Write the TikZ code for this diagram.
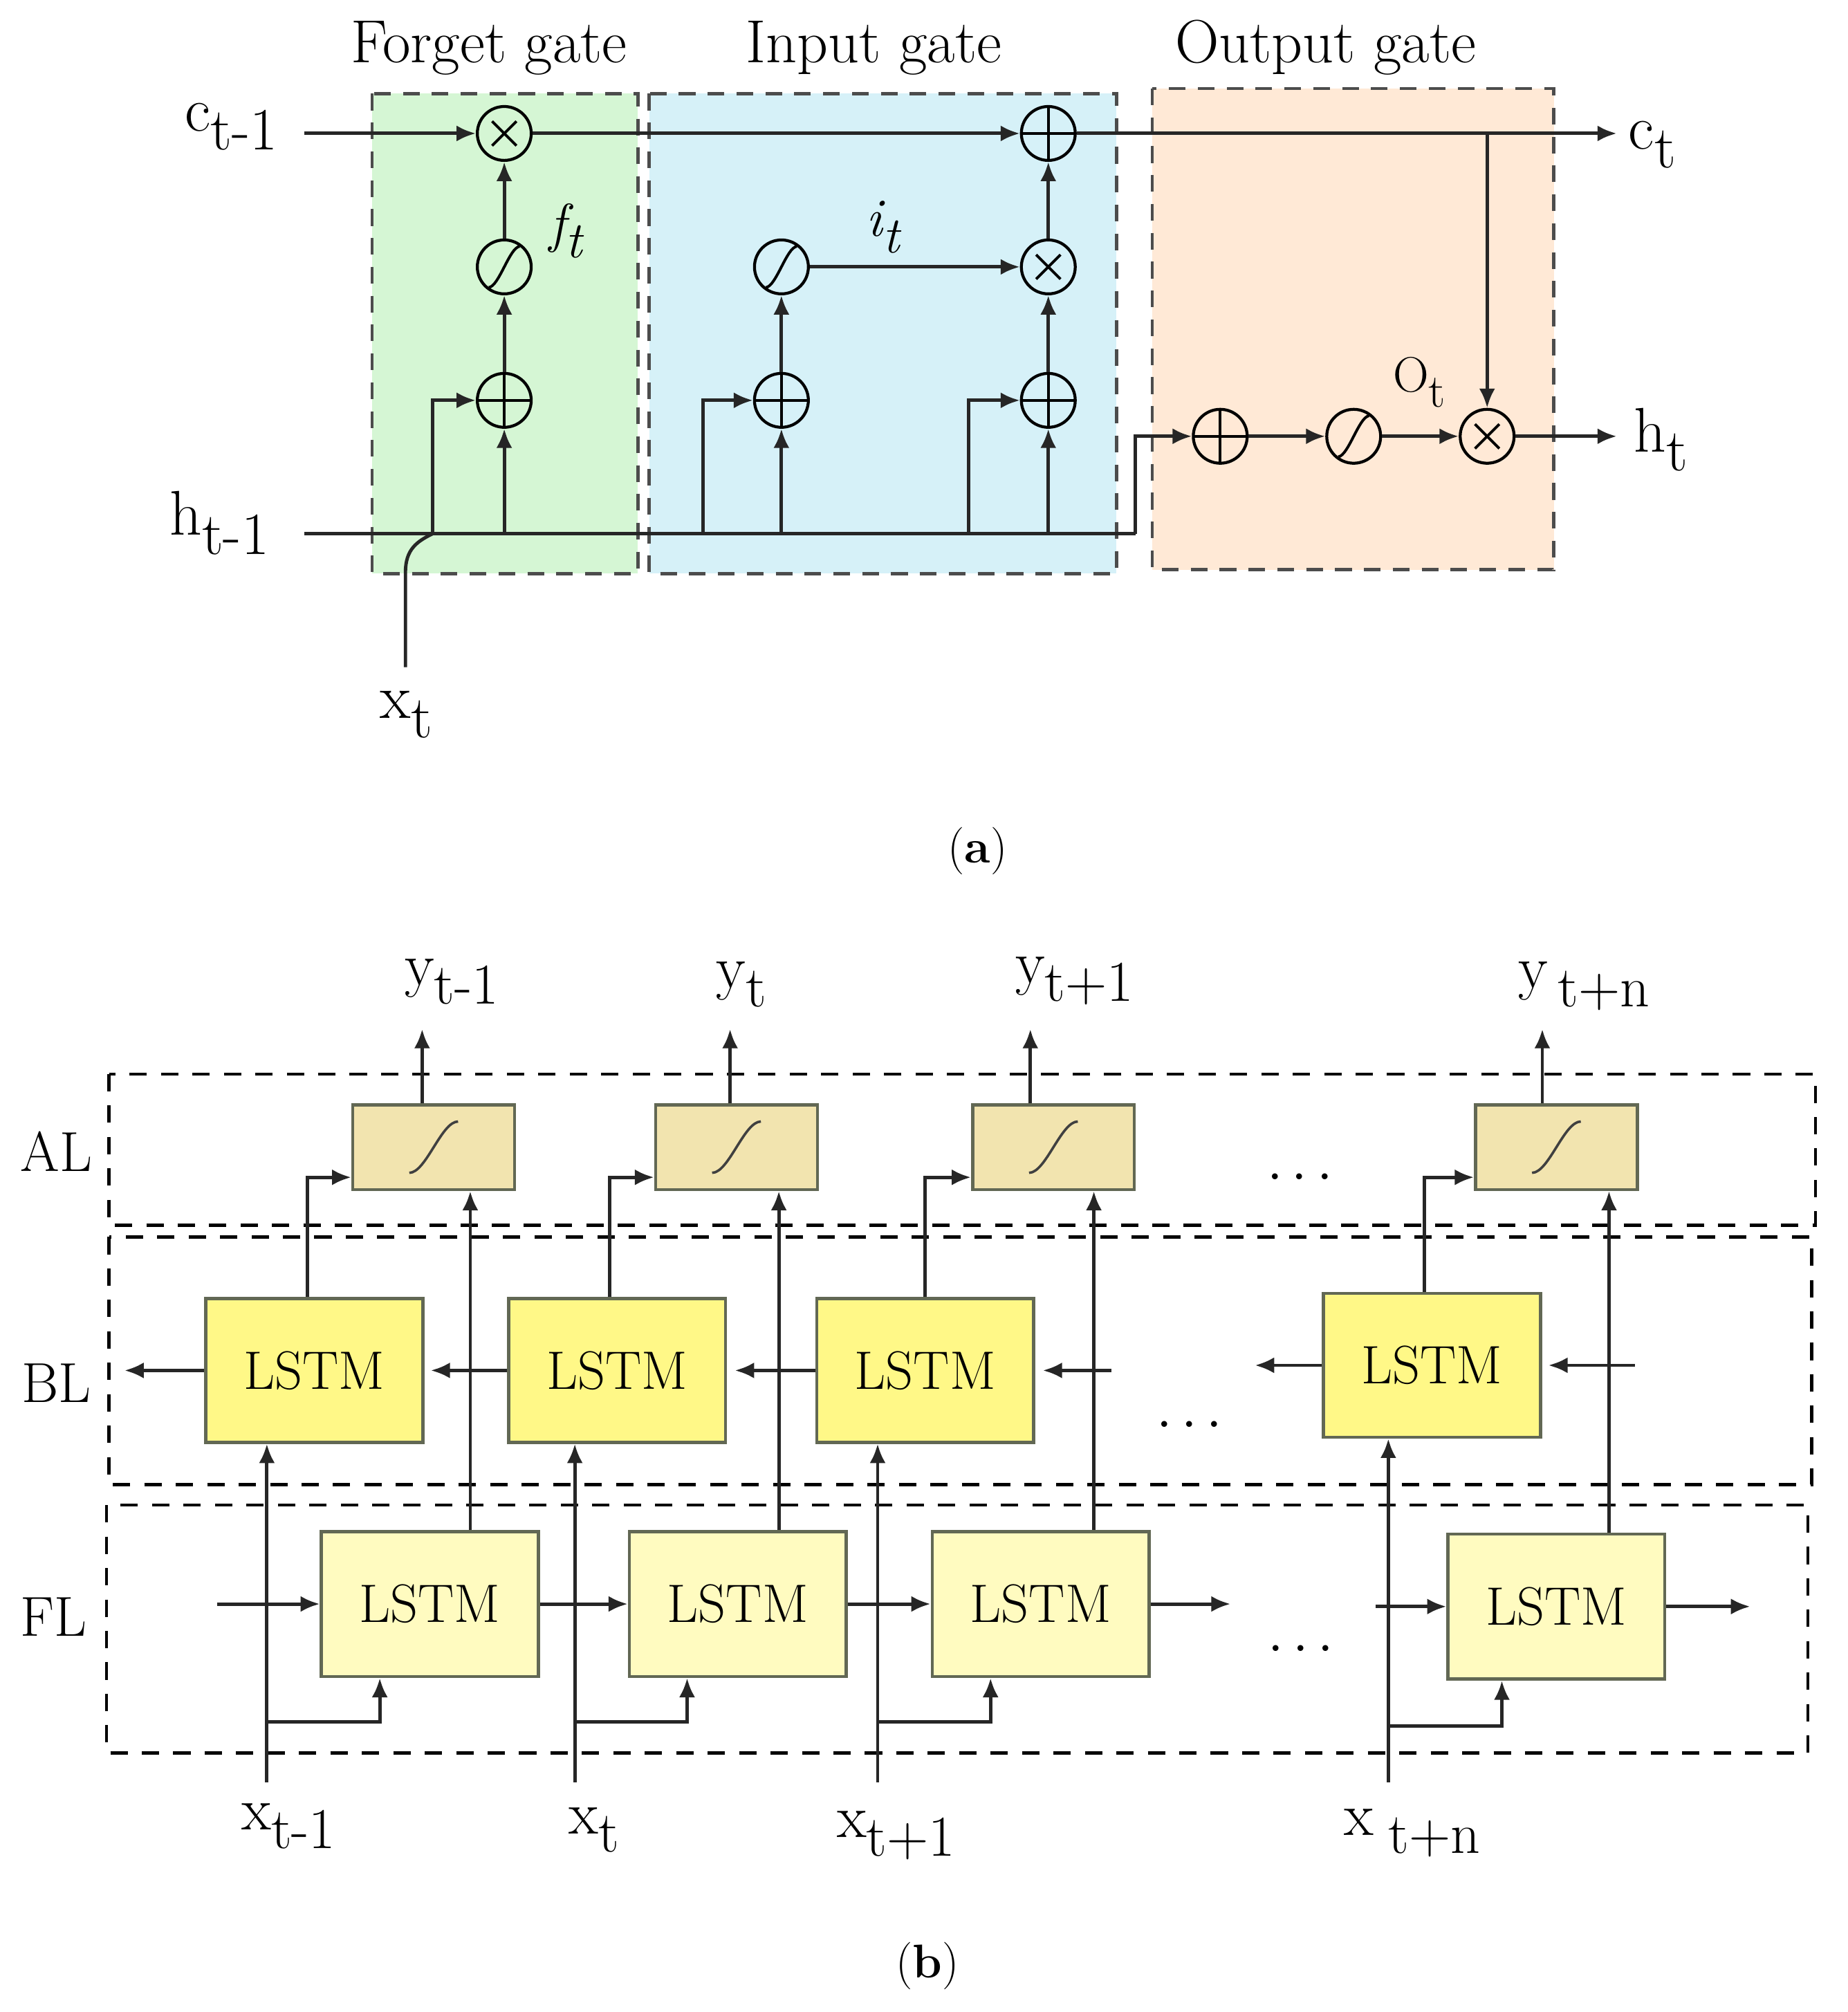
\documentclass[tikz,border=0pt]{standalone}
\usepackage{graphicx}
\usetikzlibrary{arrows.meta,positioning}

\definecolor{fgreen}{RGB}{213,246,212}
\definecolor{iblue}{RGB}{214,241,248}
\definecolor{oorange}{RGB}{255,233,214}
\definecolor{acttan}{RGB}{242,228,175}
\definecolor{bwdyellow}{RGB}{255,248,135}
\definecolor{fwdyellow}{RGB}{255,251,192}
\definecolor{boxline}{RGB}{98,104,84}

\newcommand{\tlabel}[2]{#1\raisebox{-0.7ex}{\scalebox{0.95}{#2}}}

\begin{document}
\begin{tikzpicture}[x=0.2mm,y=-0.2mm,
	wire/.style={line width=1.5pt,black!85},
	arr/.style={wire,-{Latex[length=3mm,width=2.5mm]}},
	op/.style={circle,draw,line width=1.3pt,minimum size=8.4mm,inner sep=0pt},
	add/.style={op,path picture={\draw[line width=1.2pt] (path picture bounding box.west) -- (path picture bounding box.east) (path picture bounding box.north) -- (path picture bounding box.south);}},
	mul/.style={op,path picture={\draw[line width=1.2pt] ([shift={(-1.9mm,-1.9mm)}]path picture bounding box.center) -- ([shift={(1.9mm,1.9mm)}]path picture bounding box.center) ([shift={(-1.9mm,1.9mm)}]path picture bounding box.center) -- ([shift={(1.9mm,-1.9mm)}]path picture bounding box.center);}},
	sgm/.style={op,path picture={\draw[line width=1.2pt] ([shift={(-2.4mm,-3.2mm)}]path picture bounding box.center) .. controls +(1.6mm,0.2mm) and +(-1.6mm,-0.2mm) .. ([shift={(2.4mm,3.2mm)}]path picture bounding box.center);}},
	gatebox/.style={draw=black!70,line width=1.5pt,dash pattern=on 2.6mm off 1.9mm},
	layerbox/.style={draw,line width=1.4pt,dash pattern=on 2.7mm off 2.2mm},
	actbox/.style={draw=boxline,fill=acttan,line width=1.4pt,minimum width=25.2mm,minimum height=13.2mm,inner sep=0pt,
		path picture={\draw[line width=1.1pt,black!75] ([shift={(-3.8mm,-4mm)}]path picture bounding box.center) .. controls +(2.6mm,0) and +(-2.6mm,0) .. ([shift={(3.8mm,4mm)}]path picture bounding box.center);}},
	bwdbox/.style={draw=boxline,fill=bwdyellow,line width=1.4pt,minimum width=33.8mm,minimum height=22.4mm,font=\fontsize{24}{28}\selectfont},
	fwdbox/.style={draw=boxline,fill=fwdyellow,line width=1.4pt,minimum width=33.8mm,minimum height=22.6mm,font=\fontsize{24}{28}\selectfont},
	lbl/.style={inner sep=0pt,font=\fontsize{28}{32}\selectfont},
	smlbl/.style={inner sep=0pt,font=\fontsize{27}{31}\selectfont},
	layer/.style={inner sep=0pt,anchor=base,font=\fontsize{25}{29}\selectfont},
	title/.style={inner sep=0pt,font=\fontsize{27}{31}\selectfont},
	capt/.style={inner sep=0pt,font=\fontsize{21}{25}\selectfont}]
\useasboundingbox (0,0) rectangle (1440,1568);

% (a) one LSTM cell
\draw[gatebox,fill=fgreen] (290,73) rectangle (497,447);
\draw[gatebox,fill=iblue] (506,73) rectangle (870,447);
\draw[gatebox,fill=oorange] (898,69) rectangle (1211,444);
\node[title,anchor=base] (tforget) at (381,49) {Forget gate};
\node[title,anchor=base] (tinput) at (681,49) {Input gate};
\node[title,anchor=base] (toutput) at (1033,49) {Output gate};

\node[mul] (fx) at (393,104) {};
\node[sgm] (fs) at (393,208) {};
\node[add] (fa) at (393,312) {};
\node[sgm] (is) at (609,208) {};
\node[add] (ia1) at (609,312) {};
\node[add] (ic) at (817,104) {};
\node[mul] (ix) at (817,208) {};
\node[add] (ia2) at (817,312) {};
\node[add] (oa) at (951,340) {};
\node[sgm] (os) at (1055,340) {};
\node[mul] (ox) at (1159,340) {};

\node[lbl,anchor=base west] (cprev) at (144,102) {\tlabel{c}{t-1}};
\node[lbl,anchor=base west] (hprev) at (132,417) {\tlabel{h}{t-1}};
\node[lbl,anchor=base west] (cnext) at (1269,116) {\tlabel{c}{t}};
\node[lbl,anchor=base west] (hnext) at (1273,352) {\tlabel{h}{t}};
\node[lbl,anchor=base west] (xcur) at (296,560) {\tlabel{x}{t}};
\node[inner sep=0pt,font=\fontsize{24}{28}\selectfont\itshape] (ft) at (441,180) {\tlabel{f}{t}};
\node[inner sep=0pt,font=\fontsize{24}{28}\selectfont\itshape] (it) at (688,177) {\tlabel{i}{t}};
\node[inner sep=0pt,font=\fontsize{22}{26}\selectfont] (ot) at (1106,298) {\tlabel{O}{t}};

\coordinate (c0) at (237,104);
\coordinate (c1) at (1260,104);
\coordinate (cb) at (1159,104);
\coordinate (h0) at (237,416);
\coordinate (h1) at (1260,340);
\coordinate (hb) at (885,416);
\coordinate (x0) at (316,520);
\coordinate (fb) at (337,416);
\coordinate (ib1) at (548,416);
\coordinate (ib2) at (755,416);

\draw[arr] (c0) -- (fx);
\draw[arr] (fx) -- (ic);
\draw[arr] (ic) -- (c1);
\draw[arr] (cb) -- (ox);
\draw[wire] (h0) -- (hb);
\draw[arr] (hb) |- (oa);
\draw[wire] (x0) -- ++(0,-74) .. controls +(0,-18) and +(-12,6) .. (fb);
\draw[arr] (fb) |- (fa);
\draw[arr] (fa |- h0) -- (fa);
\draw[arr] (fa) -- (fs);
\draw[arr] (fs) -- (fx);
\draw[arr] (ib1) |- (ia1);
\draw[arr] (ia1 |- h0) -- (ia1);
\draw[arr] (ia1) -- (is);
\draw[arr] (is) -- (ix);
\draw[arr] (ib2) |- (ia2);
\draw[arr] (ia2 |- h0) -- (ia2);
\draw[arr] (ia2) -- (ix);
\draw[arr] (ix) -- (ic);
\draw[arr] (oa) -- (os);
\draw[arr] (os) -- (ox);
\draw[arr] (ox) -- (h1);

\node[capt] (capa) at (762,663) {(\textbf{a})};

% (b) bidirectional layers
\draw[layerbox] (85,837) rectangle (1415,955);
\draw[layerbox] (85,964) rectangle (1412,1157);
\draw[layerbox] (83,1173) rectangle (1409,1366);
\node[layer] (al) at (44,913) {AL};
\node[layer] (bl) at (44,1093) {BL};
\node[layer] (fl) at (42,1275) {FL};

\node[actbox] (sg1) at (338,894) {};
\node[actbox] (sg2) at (574,894) {};
\node[actbox] (sg3) at (821,894) {};
\node[actbox] (sg4) at (1213,894) {};
\node[bwdbox] (bl1) at (245,1068) {LSTM};
\node[bwdbox] (bl2) at (481,1068) {LSTM};
\node[bwdbox] (bl3) at (721,1068) {LSTM};
\node[bwdbox] (bl4) at (1116,1064) {LSTM};
\node[fwdbox] (fl1) at (335,1250) {LSTM};
\node[fwdbox] (fl2) at (575,1250) {LSTM};
\node[fwdbox] (fl3) at (811,1250) {LSTM};
\node[fwdbox] (fl4) at (1213,1252) {LSTM};

\node[font=\fontsize{27}{31}\selectfont\bfseries] (dal) at (1013,918) {$\cdots$};
\node[font=\fontsize{27}{31}\selectfont\bfseries] (dbl) at (927,1111) {$\cdots$};
\node[font=\fontsize{27}{31}\selectfont\bfseries] (dfl) at (1014,1286) {$\cdots$};

\node[smlbl,anchor=base west] (y1) at (315,768) {\tlabel{y}{t-1}};
\node[smlbl,anchor=base west] (y2) at (558,770) {\tlabel{y}{t}};
\node[smlbl,anchor=base west] (y3) at (791,766) {\tlabel{y}{t+1}};
\node[smlbl,anchor=base west] (y4) at (1183,770) {\tlabel{y\,}{t+n}};
\node[smlbl,anchor=base west] (x1) at (188,1426) {\tlabel{x}{t-1}};
\node[smlbl,anchor=base west] (x2) at (443,1429) {\tlabel{x}{t}};
\node[smlbl,anchor=base west] (x3) at (652,1432) {\tlabel{x}{t+1}};
\node[smlbl,anchor=base west] (x4) at (1047,1430) {\tlabel{x\hspace{0.25em}}{t+n}};

\coordinate (yo1) at (329,802);
\coordinate (yo2) at (569,802);
\coordinate (yo3) at (803,802);
\coordinate (yo4) at (1202,802);
\draw[arr] (yo1 |- sg1.north) -- (yo1);
\draw[arr] (yo2 |- sg2.north) -- (yo2);
\draw[arr] (yo3 |- sg3.north) -- (yo3);
\draw[arr] (yo4 |- sg4.north) -- (yo4);

\draw[arr] ([xshift=-1.1mm]bl1.north) |- ([yshift=-4.7mm]sg1.west);
\draw[arr] ([xshift=-1.2mm]bl2.north) |- ([yshift=-4.7mm]sg2.west);
\draw[arr] (bl3.north) |- ([yshift=-4.7mm]sg3.west);
\draw[arr] ([xshift=-1.2mm]bl4.north) |- ([yshift=-4.7mm]sg4.west);

\coordinate (u1) at ([xshift=6.3mm]fl1.north);
\coordinate (u2) at ([xshift=6.4mm]fl2.north);
\coordinate (u3) at ([xshift=8.3mm]fl3.north);
\coordinate (u4) at ([xshift=8.2mm]fl4.north);
\draw[arr] (u1) -- (u1 |- sg1.south);
\draw[arr] (u2) -- (u2 |- sg2.south);
\draw[arr] (u3) -- (u3 |- sg3.south);
\draw[arr] (u4) -- (u4 |- sg4.south);

\coordinate (bo1) at (97,1068);
\coordinate (bi3) at (866,1068);
\coordinate (bo4) at (978,1064);
\coordinate (bi4) at (1274,1064);
\draw[arr] (bl1.west) -- (bo1);
\draw[arr] (bl2.west) -- ([xshift=1mm]bl1.east);
\draw[arr] (bl3.west) -- ([xshift=1.2mm]bl2.east);
\draw[arr] (bi3) -- ([xshift=1.2mm]bl3.east);
\draw[arr] (bl4.west) -- (bo4);
\draw[arr] (bi4) -- ([xshift=1mm]bl4.east);

\coordinate (fi1) at (169,1250);
\coordinate (fo3) at (959,1250);
\coordinate (fi4) at (1072,1252);
\coordinate (fo4) at (1364,1252);
\draw[arr] (fi1) -- (fl1);
\draw[arr] (fl1) -- (fl2);
\draw[arr] (fl2) -- (fl3);
\draw[arr] (fl3) -- (fo3);
\draw[arr] (fi4) -- (fl4);
\draw[arr] (fl4) -- (fo4);

\coordinate (xi1) at (208,1389);
\coordinate (xi2) at (448,1389);
\coordinate (xi3) at (684,1389);
\coordinate (xi4) at (1082,1389);
\draw[arr] (xi1) -- (xi1 |- bl1.south);
\draw[arr] (xi2) -- (xi2 |- bl2.south);
\draw[arr] (xi3) -- (xi3 |- bl3.south);
\draw[arr] (xi4) -- (xi4 |- bl4.south);
\coordinate (xb1) at (208,1342);
\coordinate (xb2) at (448,1342);
\coordinate (xb3) at (684,1342);
\coordinate (xb4) at (1082,1345);
\draw[arr] (xb1) -| ([xshift=-7.8mm]fl1.south);
\draw[arr] (xb2) -| ([xshift=-7.9mm]fl2.south);
\draw[arr] (xb3) -| ([xshift=-7.8mm]fl3.south);
\draw[arr] (xb4) -| ([xshift=-8.5mm]fl4.south);

\node[capt] (capb) at (723,1532) {(\textbf{b})};
\end{tikzpicture}
\end{document}
